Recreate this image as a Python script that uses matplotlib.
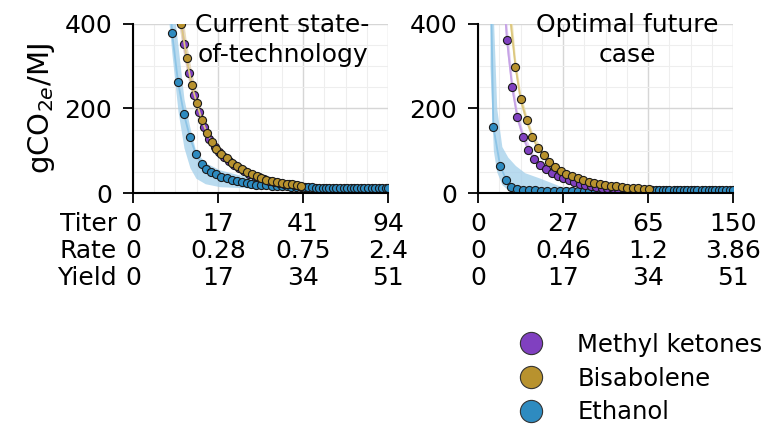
import numpy as np
import matplotlib
matplotlib.use("Agg")
import matplotlib.pyplot as plt
from matplotlib.lines import Line2D
from matplotlib.ticker import MultipleLocator

# tick labels (titer g/L, rate g/L/h, yield %)
titer_cur = ['0', '17', '41', '94']
rate_cur = ['0', '0.28', '0.75', '2.4']
yield_cur = ['0', '17', '34', '51']
titer_opt = ['0', '27', '65', '150']
rate_opt = ['0', '0.46', '1.2', '3.86']
yield_opt = ['0', '17', '34', '51']

names = ['Methyl ketones', 'Bisabolene', 'Ethanol']
colors = {'Methyl ketones': '#8040c0', 'Bisabolene': '#b8922e', 'Ethanol': '#2e8bc0'}
band_colors = {'Methyl ketones': '#d9c0ee', 'Bisabolene': '#eadcaa', 'Ethanol': '#a2cfea'}
line_colors = {'Methyl ketones': '#c6a3e6', 'Bisabolene': '#dcc77e', 'Ethanol': '#8cc4e6'}

# ---- current state-of-technology ----
eth_cur_x = [0.42, 0.46, 0.53, 0.60, 0.67, 0.74, 0.81, 0.86, 0.92, 0.98, 1.04, 1.10, 1.16,
             1.22, 1.28, 1.34, 1.39, 1.45, 1.51, 1.57, 1.63, 1.69, 1.75, 1.81, 1.86, 1.92,
             1.98, 2.02, 2.06, 2.11, 2.15, 2.19, 2.23, 2.27, 2.31, 2.35, 2.39, 2.44, 2.48,
             2.52, 2.56, 2.60, 2.64, 2.68, 2.72, 2.76, 2.81, 2.85, 2.89, 2.93, 2.97, 3.00]
eth_cur_y = [520, 379, 263, 186, 132, 92, 68, 57, 50, 44, 39, 35, 31,
             28, 25.5, 23, 21.5, 20, 19, 18, 17, 16.5, 16, 15.5, 15, 14.5,
             14, 14, 13.5, 13.5, 13, 13, 13, 12.5, 12.5, 12.5, 12.5, 12, 12,
             12, 12, 12, 12, 12, 12, 12, 12, 12, 12, 12, 12, 12]
bis_cur_x = [0.51, 0.57, 0.63, 0.69, 0.75, 0.81, 0.87, 0.93, 0.98, 1.04, 1.10, 1.16, 1.22,
             1.28, 1.34, 1.40, 1.46, 1.51, 1.57, 1.63, 1.69, 1.75, 1.81, 1.87, 1.93, 1.98]
bis_cur_y = [520, 400, 320, 256, 213, 173, 142, 120, 104, 92, 82, 72, 64,
             57, 50, 45, 40, 36, 32, 29, 26.5, 24, 22, 20.5, 19, 17.5]
mk_cur_x = [0.54, 0.60, 0.66, 0.72, 0.78, 0.84, 0.90, 0.96, 1.01, 1.07, 1.13, 1.19, 1.25,
            1.31, 1.37, 1.43, 1.48, 1.54, 1.60, 1.66, 1.72, 1.78, 1.84, 1.90, 1.96]
mk_cur_y = [470, 352, 285, 232, 192, 157, 129, 110, 96, 85, 75, 66, 59,
            52, 46, 41, 37, 33, 29.5, 27, 24.5, 22.5, 20.5, 19, 17.5]

eth_cur_band_x = [0.41, 0.46, 0.53, 0.60, 0.67, 0.74, 0.85, 1.02, 1.38, 1.96, 3.00]
eth_cur_lo = [430, 326, 193, 107, 60, 35, 22, 15, 12, 10, 9]
eth_cur_hi = [700, 470, 348, 223, 155, 98, 72, 55, 36, 20, 16]
bis_cur_band_x = [0.50, 0.57, 0.63, 0.69, 0.75, 0.81, 0.93, 1.10, 1.34, 1.63, 1.98]
bis_cur_lo = [450, 360, 290, 230, 190, 155, 108, 74, 45, 26, 15.5]
bis_cur_hi = [600, 450, 355, 285, 238, 193, 133, 90, 55, 32, 19.5]
mk_cur_band_x = [0.52, 0.60, 0.66, 0.72, 0.78, 0.84, 0.96, 1.13, 1.37, 1.66, 1.96]
mk_cur_lo = [430, 320, 258, 210, 174, 142, 99, 68, 41, 24, 15.5]
mk_cur_hi = [560, 390, 315, 256, 212, 174, 121, 82, 51, 30, 19.5]

# ---- optimal future case ----
eth_opt_x = [0.14, 0.18, 0.26, 0.33, 0.39, 0.46, 0.53, 0.60, 0.67, 0.74, 0.81, 0.89, 0.96,
             1.03, 1.10, 1.17, 1.24, 1.31, 1.38, 1.45, 1.52, 1.59, 1.67, 1.74, 1.81, 1.88,
             1.95, 2.01, 2.05, 2.09, 2.13, 2.17, 2.21, 2.25, 2.30, 2.34, 2.38, 2.42, 2.46,
             2.50, 2.54, 2.58, 2.63, 2.67, 2.71, 2.75, 2.79, 2.83, 2.87, 2.91, 2.96, 3.00]
eth_opt_y = [600, 157, 64, 32, 15, 9, 7, 6, 6, 5.5, 5.5, 5.5, 5.5,
             5.5, 5.5, 5.5, 5.5, 5.5, 5.5, 5.5, 5.5, 5.5, 5.5, 5.5, 5.5, 5.5,
             5.5, 6, 6, 6, 6, 6, 6, 6, 6, 6, 6, 6, 6,
             6, 6, 6, 6, 6, 6, 6, 6, 6, 6, 6, 6, 6]
mk_opt_x = [0.27, 0.34, 0.40, 0.46, 0.53, 0.59, 0.66, 0.73, 0.80, 0.87, 0.94, 1.00, 1.07,
            1.13, 1.20, 1.26, 1.33, 1.39, 1.46, 1.52, 1.59, 1.65, 1.72, 1.78, 1.85, 1.91, 1.98]
mk_opt_y = [560, 362, 252, 181, 133, 102, 80, 66, 56, 48, 41, 35, 30,
            26, 22, 19, 17, 15, 13, 12, 11, 10, 9, 8.5, 8, 7.5, 7]
bis_opt_x = [0.37, 0.44, 0.50, 0.57, 0.64, 0.70, 0.77, 0.83, 0.91, 0.97, 1.04, 1.10, 1.17,
             1.23, 1.30, 1.36, 1.43, 1.49, 1.56, 1.62, 1.69, 1.75, 1.82, 1.88, 1.95, 2.01]
bis_opt_y = [430, 299, 222, 173, 133, 107, 90, 74, 62, 53, 46, 40, 35,
             31, 27, 24, 21.5, 19, 17, 15.5, 14, 13, 12, 11, 10, 9.5]

eth_opt_band_x = [0.14, 0.18, 0.22, 0.28, 0.35, 0.44, 0.55, 0.73, 0.97, 1.44, 2.01, 3.00]
eth_opt_lo = [300, 100, 50, 20, 8, 4, 3, 3, 3, 3, 3, 3]
eth_opt_hi = [700, 420, 200, 110, 85, 65, 48, 35, 16, 10, 9, 9]
mk_opt_band_x = [0.27, 0.34, 0.40, 0.46, 0.53, 0.66, 0.80, 1.00, 1.26, 1.59, 1.98]
mk_opt_lo = [500, 330, 232, 167, 122, 73, 51, 32, 17, 10, 6]
mk_opt_hi = [650, 400, 275, 197, 145, 88, 61, 38, 21, 12, 8]
bis_opt_band_x = [0.37, 0.44, 0.50, 0.57, 0.64, 0.77, 0.97, 1.17, 1.43, 1.69, 2.01]
bis_opt_lo = [400, 280, 208, 162, 124, 84, 49, 32, 20, 13, 9]
bis_opt_hi = [480, 320, 238, 185, 143, 97, 57, 38, 23.5, 15.5, 10.5]

plt.rcParams['font.family'] = ['DejaVu Sans']
FS = 18
LS = 1.15

fig = plt.figure(figsize=(7.64, 4.28), dpi=100)
ax1 = fig.add_axes([0.174, 0.549, 0.334, 0.395])
ax2 = fig.add_axes([0.6257, 0.549, 0.334, 0.395])

panels = [
    (ax1, 'Current state-\nof-technology', titer_cur, rate_cur, yield_cur, {
        'Ethanol': (eth_cur_x, eth_cur_y, eth_cur_band_x, eth_cur_lo, eth_cur_hi),
        'Methyl ketones': (mk_cur_x, mk_cur_y, mk_cur_band_x, mk_cur_lo, mk_cur_hi),
        'Bisabolene': (bis_cur_x, bis_cur_y, bis_cur_band_x, bis_cur_lo, bis_cur_hi),
    }),
    (ax2, 'Optimal future\ncase', titer_opt, rate_opt, yield_opt, {
        'Ethanol': (eth_opt_x, eth_opt_y, eth_opt_band_x, eth_opt_lo, eth_opt_hi),
        'Methyl ketones': (mk_opt_x, mk_opt_y, mk_opt_band_x, mk_opt_lo, mk_opt_hi),
        'Bisabolene': (bis_opt_x, bis_opt_y, bis_opt_band_x, bis_opt_lo, bis_opt_hi),
    }),
]

for ax, title, tit, rat, yld, series in panels:
    z = 2
    for name in ['Ethanol', 'Methyl ketones', 'Bisabolene']:
        x, y, bx, lo, hi = series[name]
        ax.fill_between(bx, lo, hi, color=band_colors[name], alpha=0.75, lw=0, zorder=1)
        ax.plot(x, y, color=line_colors[name], lw=1.3, zorder=z)
        ax.scatter(x, y, s=34, color=colors[name], edgecolor='#1a1a1a', linewidth=0.8, zorder=z + 1)
        z += 2
    ax.set_xlim(0, 3)
    ax.set_ylim(0, 400)
    ax.set_xticks([0, 1, 2, 3])
    ax.set_xticklabels([f'{a}\n{b}\n{c}' for a, b, c in zip(tit, rat, yld)])
    for lbl in ax.get_xticklabels():
        lbl.set_linespacing(LS)
    ax.set_yticks([0, 200, 400])
    ax.xaxis.set_minor_locator(MultipleLocator(0.25))
    ax.yaxis.set_minor_locator(MultipleLocator(50))
    ax.grid(which='major', color='#d6d6d6', lw=1.0, zorder=0)
    ax.grid(which='minor', color='#eeeeee', lw=0.8, zorder=0)
    ax.set_axisbelow(True)
    ax.tick_params(which='major', direction='out', length=7, width=1.3, labelsize=FS)
    ax.tick_params(axis='x', which='major', pad=7)
    ax.tick_params(axis='y', which='major', pad=8)
    ax.tick_params(which='minor', length=0)
    for s in ['top', 'right']:
        ax.spines[s].set_visible(False)
    for s in ['left', 'bottom']:
        ax.spines[s].set_linewidth(1.5)
        ax.spines[s].set_color('black')
        ax.spines[s].set_zorder(10)
    ax.text(0.586, 1.065, title, transform=ax.transAxes, ha='center', va='top',
            fontsize=FS, multialignment='center', linespacing=1.3, zorder=20)

ax1.set_ylabel('gCO$_{2e}$/MJ', fontsize=21, labelpad=5)
ax1.annotate('Titer\nRate\nYield', xy=(0, 0), xycoords=('data', 'axes fraction'),
             xytext=(-11.5, -14), textcoords='offset points', ha='right', va='top',
             fontsize=FS, multialignment='right', linespacing=LS)

handles = [Line2D([], [], ls='none', marker='o', markersize=16, markerfacecolor=colors[n],
                  markeredgecolor='#333333', markeredgewidth=0.8) for n in names]
fig.legend(handles, names, loc='upper left', bbox_to_anchor=(0.6715, 0.222),
           frameon=False, fontsize=17.5, handlelength=1.5, handletextpad=1.15,
           labelspacing=0.4, borderpad=0, borderaxespad=0)

fig.savefig('out.png', dpi=100)
